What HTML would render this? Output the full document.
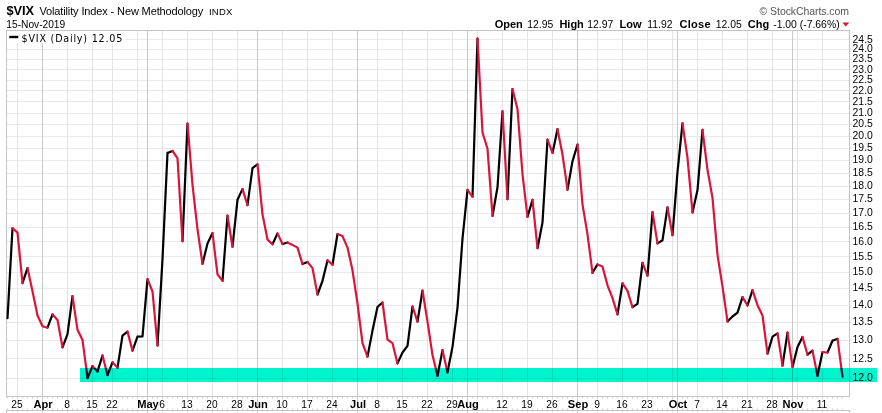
<!DOCTYPE html><html><head><meta charset="utf-8"><title>$VIX</title><style>
html,body{margin:0;padding:0;background:#fff;}
body{width:882px;height:413px;overflow:hidden;position:relative;font-family:"Liberation Sans",Arial,sans-serif;color:#000;}
.t{position:absolute;white-space:nowrap;line-height:1;}
.b{font-weight:bold;}
svg{position:absolute;left:0;top:0;}
svg text{font-family:"Liberation Sans",Arial,sans-serif;}

</style></head><body>
<svg width="882" height="413" viewBox="0 0 882 413">
<rect x="0" y="0" width="882" height="413" fill="#fff"/>
<path d="M6 378.5H852 M6 358.5H852 M6 340.5H852 M6 322.5H852 M6 305.5H852 M6 288.5H852 M6 272.5H852 M6 256.5H852 M6 241.5H852 M6 227.5H852 M6 213.5H852 M6 199.5H852 M6 186.5H852 M6 173.5H852 M6 160.5H852 M6 148.5H852 M6 136.5H852 M6 124.5H852 M6 113.5H852 M6 101.5H852 M6 90.5H852 M6 80.5H852 M6 69.5H852 M6 59.5H852 M6 49.5H852 M6 39.5H852" stroke="#e9e9e9" stroke-width="1" fill="none" shape-rendering="crispEdges"/>
<path d="M17.5 30V400 M17.5 409V413 M67.5 30V400 M67.5 409V413 M92.5 30V400 M92.5 409V413 M112.5 30V400 M112.5 409V413 M137.5 30V400 M137.5 409V413 M162.5 30V400 M162.5 409V413 M187.5 30V400 M187.5 409V413 M212.5 30V400 M212.5 409V413 M237.5 30V400 M237.5 409V413 M282.5 30V400 M282.5 409V413 M307.5 30V400 M307.5 409V413 M332.5 30V400 M332.5 409V413 M377.5 30V400 M377.5 409V413 M402.5 30V400 M402.5 409V413 M427.5 30V400 M427.5 409V413 M452.5 30V400 M452.5 409V413 M477.5 30V400 M477.5 409V413 M502.5 30V400 M502.5 409V413 M527.5 30V400 M527.5 409V413 M552.5 30V400 M552.5 409V413 M597.5 30V400 M597.5 409V413 M622.5 30V400 M622.5 409V413 M647.5 30V400 M647.5 409V413 M672.5 30V400 M672.5 409V413 M697.5 30V400 M697.5 409V413 M722.5 30V400 M722.5 409V413 M747.5 30V400 M747.5 409V413 M772.5 30V400 M772.5 409V413 M797.5 30V400 M797.5 409V413 M822.5 30V400 M822.5 409V413" stroke="#e4e4e4" stroke-width="1" fill="none" shape-rendering="crispEdges"/>
<path d="M42.5 30V413 M147.5 30V413 M257.5 30V413 M357.5 30V413 M467.5 30V413 M577.5 30V413 M677.5 30V413 M792.5 30V413" stroke="#c9c9c9" stroke-width="1" fill="none" shape-rendering="crispEdges"/>
<path d="M7.5 397v1.5 M7.5 408.5v1.5 M12.5 397v1.5 M12.5 408.5v1.5 M17.5 397v1.5 M17.5 408.5v1.5 M22.5 397v1.5 M22.5 408.5v1.5 M27.5 397v1.5 M27.5 408.5v1.5 M32.5 397v1.5 M32.5 408.5v1.5 M37.5 397v1.5 M37.5 408.5v1.5 M42.5 397v1.5 M42.5 408.5v1.5 M47.5 397v1.5 M47.5 408.5v1.5 M52.5 397v1.5 M52.5 408.5v1.5 M57.5 397v1.5 M57.5 408.5v1.5 M62.5 397v1.5 M62.5 408.5v1.5 M67.5 397v1.5 M67.5 408.5v1.5 M72.5 397v1.5 M72.5 408.5v1.5 M77.5 397v1.5 M77.5 408.5v1.5 M82.5 397v1.5 M82.5 408.5v1.5 M87.5 397v1.5 M87.5 408.5v1.5 M92.5 397v1.5 M92.5 408.5v1.5 M97.5 397v1.5 M97.5 408.5v1.5 M102.5 397v1.5 M102.5 408.5v1.5 M107.5 397v1.5 M107.5 408.5v1.5 M112.5 397v1.5 M112.5 408.5v1.5 M117.5 397v1.5 M117.5 408.5v1.5 M122.5 397v1.5 M122.5 408.5v1.5 M127.5 397v1.5 M127.5 408.5v1.5 M132.5 397v1.5 M132.5 408.5v1.5 M137.5 397v1.5 M137.5 408.5v1.5 M142.5 397v1.5 M142.5 408.5v1.5 M147.5 397v1.5 M147.5 408.5v1.5 M152.5 397v1.5 M152.5 408.5v1.5 M157.5 397v1.5 M157.5 408.5v1.5 M162.5 397v1.5 M162.5 408.5v1.5 M167.5 397v1.5 M167.5 408.5v1.5 M172.5 397v1.5 M172.5 408.5v1.5 M177.5 397v1.5 M177.5 408.5v1.5 M182.5 397v1.5 M182.5 408.5v1.5 M187.5 397v1.5 M187.5 408.5v1.5 M192.5 397v1.5 M192.5 408.5v1.5 M197.5 397v1.5 M197.5 408.5v1.5 M202.5 397v1.5 M202.5 408.5v1.5 M207.5 397v1.5 M207.5 408.5v1.5 M212.5 397v1.5 M212.5 408.5v1.5 M217.5 397v1.5 M217.5 408.5v1.5 M222.5 397v1.5 M222.5 408.5v1.5 M227.5 397v1.5 M227.5 408.5v1.5 M232.5 397v1.5 M232.5 408.5v1.5 M237.5 397v1.5 M237.5 408.5v1.5 M242.5 397v1.5 M242.5 408.5v1.5 M247.5 397v1.5 M247.5 408.5v1.5 M252.5 397v1.5 M252.5 408.5v1.5 M257.5 397v1.5 M257.5 408.5v1.5 M262.5 397v1.5 M262.5 408.5v1.5 M267.5 397v1.5 M267.5 408.5v1.5 M272.5 397v1.5 M272.5 408.5v1.5 M277.5 397v1.5 M277.5 408.5v1.5 M282.5 397v1.5 M282.5 408.5v1.5 M287.5 397v1.5 M287.5 408.5v1.5 M292.5 397v1.5 M292.5 408.5v1.5 M297.5 397v1.5 M297.5 408.5v1.5 M302.5 397v1.5 M302.5 408.5v1.5 M307.5 397v1.5 M307.5 408.5v1.5 M312.5 397v1.5 M312.5 408.5v1.5 M317.5 397v1.5 M317.5 408.5v1.5 M322.5 397v1.5 M322.5 408.5v1.5 M327.5 397v1.5 M327.5 408.5v1.5 M332.5 397v1.5 M332.5 408.5v1.5 M337.5 397v1.5 M337.5 408.5v1.5 M342.5 397v1.5 M342.5 408.5v1.5 M347.5 397v1.5 M347.5 408.5v1.5 M352.5 397v1.5 M352.5 408.5v1.5 M357.5 397v1.5 M357.5 408.5v1.5 M362.5 397v1.5 M362.5 408.5v1.5 M367.5 397v1.5 M367.5 408.5v1.5 M372.5 397v1.5 M372.5 408.5v1.5 M377.5 397v1.5 M377.5 408.5v1.5 M382.5 397v1.5 M382.5 408.5v1.5 M387.5 397v1.5 M387.5 408.5v1.5 M392.5 397v1.5 M392.5 408.5v1.5 M397.5 397v1.5 M397.5 408.5v1.5 M402.5 397v1.5 M402.5 408.5v1.5 M407.5 397v1.5 M407.5 408.5v1.5 M412.5 397v1.5 M412.5 408.5v1.5 M417.5 397v1.5 M417.5 408.5v1.5 M422.5 397v1.5 M422.5 408.5v1.5 M427.5 397v1.5 M427.5 408.5v1.5 M432.5 397v1.5 M432.5 408.5v1.5 M437.5 397v1.5 M437.5 408.5v1.5 M442.5 397v1.5 M442.5 408.5v1.5 M447.5 397v1.5 M447.5 408.5v1.5 M452.5 397v1.5 M452.5 408.5v1.5 M457.5 397v1.5 M457.5 408.5v1.5 M462.5 397v1.5 M462.5 408.5v1.5 M467.5 397v1.5 M467.5 408.5v1.5 M472.5 397v1.5 M472.5 408.5v1.5 M477.5 397v1.5 M477.5 408.5v1.5 M482.5 397v1.5 M482.5 408.5v1.5 M487.5 397v1.5 M487.5 408.5v1.5 M492.5 397v1.5 M492.5 408.5v1.5 M497.5 397v1.5 M497.5 408.5v1.5 M502.5 397v1.5 M502.5 408.5v1.5 M507.5 397v1.5 M507.5 408.5v1.5 M512.5 397v1.5 M512.5 408.5v1.5 M517.5 397v1.5 M517.5 408.5v1.5 M522.5 397v1.5 M522.5 408.5v1.5 M527.5 397v1.5 M527.5 408.5v1.5 M532.5 397v1.5 M532.5 408.5v1.5 M537.5 397v1.5 M537.5 408.5v1.5 M542.5 397v1.5 M542.5 408.5v1.5 M547.5 397v1.5 M547.5 408.5v1.5 M552.5 397v1.5 M552.5 408.5v1.5 M557.5 397v1.5 M557.5 408.5v1.5 M562.5 397v1.5 M562.5 408.5v1.5 M567.5 397v1.5 M567.5 408.5v1.5 M572.5 397v1.5 M572.5 408.5v1.5 M577.5 397v1.5 M577.5 408.5v1.5 M582.5 397v1.5 M582.5 408.5v1.5 M587.5 397v1.5 M587.5 408.5v1.5 M592.5 397v1.5 M592.5 408.5v1.5 M597.5 397v1.5 M597.5 408.5v1.5 M602.5 397v1.5 M602.5 408.5v1.5 M607.5 397v1.5 M607.5 408.5v1.5 M612.5 397v1.5 M612.5 408.5v1.5 M617.5 397v1.5 M617.5 408.5v1.5 M622.5 397v1.5 M622.5 408.5v1.5 M627.5 397v1.5 M627.5 408.5v1.5 M632.5 397v1.5 M632.5 408.5v1.5 M637.5 397v1.5 M637.5 408.5v1.5 M642.5 397v1.5 M642.5 408.5v1.5 M647.5 397v1.5 M647.5 408.5v1.5 M652.5 397v1.5 M652.5 408.5v1.5 M657.5 397v1.5 M657.5 408.5v1.5 M662.5 397v1.5 M662.5 408.5v1.5 M667.5 397v1.5 M667.5 408.5v1.5 M672.5 397v1.5 M672.5 408.5v1.5 M677.5 397v1.5 M677.5 408.5v1.5 M682.5 397v1.5 M682.5 408.5v1.5 M687.5 397v1.5 M687.5 408.5v1.5 M692.5 397v1.5 M692.5 408.5v1.5 M697.5 397v1.5 M697.5 408.5v1.5 M702.5 397v1.5 M702.5 408.5v1.5 M707.5 397v1.5 M707.5 408.5v1.5 M712.5 397v1.5 M712.5 408.5v1.5 M717.5 397v1.5 M717.5 408.5v1.5 M722.5 397v1.5 M722.5 408.5v1.5 M727.5 397v1.5 M727.5 408.5v1.5 M732.5 397v1.5 M732.5 408.5v1.5 M737.5 397v1.5 M737.5 408.5v1.5 M742.5 397v1.5 M742.5 408.5v1.5 M747.5 397v1.5 M747.5 408.5v1.5 M752.5 397v1.5 M752.5 408.5v1.5 M757.5 397v1.5 M757.5 408.5v1.5 M762.5 397v1.5 M762.5 408.5v1.5 M767.5 397v1.5 M767.5 408.5v1.5 M772.5 397v1.5 M772.5 408.5v1.5 M777.5 397v1.5 M777.5 408.5v1.5 M782.5 397v1.5 M782.5 408.5v1.5 M787.5 397v1.5 M787.5 408.5v1.5 M792.5 397v1.5 M792.5 408.5v1.5 M797.5 397v1.5 M797.5 408.5v1.5 M802.5 397v1.5 M802.5 408.5v1.5 M807.5 397v1.5 M807.5 408.5v1.5 M812.5 397v1.5 M812.5 408.5v1.5 M817.5 397v1.5 M817.5 408.5v1.5 M822.5 397v1.5 M822.5 408.5v1.5 M827.5 397v1.5 M827.5 408.5v1.5 M832.5 397v1.5 M832.5 408.5v1.5 M837.5 397v1.5 M837.5 408.5v1.5 M842.5 397v1.5 M842.5 408.5v1.5" stroke="#d2d2d2" stroke-width="1" fill="none"/>
<path d="M6.5 30.5H849.5V396.5H6.5Z M6.5 413V410.5H849.5V413" stroke="#c4c4c4" stroke-width="1" fill="none" shape-rendering="crispEdges"/>
<path d="M7.5 318.2L12.5 228.2M22.5 283.1L27.5 268.1M47.5 327.7L52.5 314.4M62.5 347.3L67.5 334.1M67.5 334.1L72.5 296.1M87.5 378.2L92.5 366.1M97.5 371.5L102.5 355.5M107.5 375.1L112.5 362.3M117.5 367.7L122.5 335.6M122.5 335.6L127.5 331.6M132.5 350.6L137.5 336.7M137.5 336.7L142.5 336.3M142.5 336.3L147.5 279.2M157.5 345.4L162.5 259.1M162.5 259.1L167.5 152.9M167.5 152.9L172.5 150.9M182.5 241.1L187.5 123.6M202.5 263.8L207.5 243.4M207.5 243.4L212.5 233.1M222.5 280.8L227.5 215.7M232.5 246.7L237.5 199.8M237.5 199.8L242.5 189.1M247.5 205.2L252.5 168.1M252.5 168.1L257.5 164.3M272.5 244.3L277.5 233.4M282.5 244.0L287.5 242.5M302.5 264.1L307.5 261.9M317.5 294.5L322.5 280.8M322.5 280.8L327.5 260.4M332.5 264.7L337.5 234.0M367.5 356.6L372.5 330.6M372.5 330.6L377.5 306.9M377.5 306.9L382.5 302.5M397.5 363.4L402.5 352.5M402.5 352.5L407.5 345.8M407.5 345.8L412.5 306.5M417.5 321.7L422.5 290.5M437.5 375.8L442.5 350.2M447.5 372.3L452.5 346.9M452.5 346.9L457.5 307.6M457.5 307.6L462.5 238.7M462.5 238.7L467.5 189.8M472.5 196.8L477.5 38.5M492.5 216.0L497.5 187.2M497.5 187.2L502.5 111.3M507.5 199.2L512.5 89.1M527.5 216.9L532.5 199.8M537.5 248.2L542.5 222.5M542.5 222.5L547.5 139.6M552.5 152.9L557.5 129.2M567.5 189.6L572.5 161.3M572.5 161.3L577.5 144.6M592.5 272.8L597.5 264.4M617.5 314.4L622.5 283.4M632.5 307.2L637.5 303.8M637.5 303.8L642.5 262.8M647.5 275.7L652.5 212.1M657.5 243.4L662.5 240.2M662.5 240.2L667.5 207.4M672.5 235.2L677.5 171.9M677.5 171.9L682.5 123.4M692.5 212.4L697.5 190.1M697.5 190.1L702.5 129.9M727.5 321.4L732.5 316.5M732.5 316.5L737.5 312.7M737.5 312.7L742.5 297.1M747.5 305.5L752.5 290.2M767.5 353.6L772.5 336.7M772.5 336.7L777.5 333.4M782.5 365.7L787.5 332.7M792.5 366.9L797.5 346.9M797.5 346.9L802.5 337.0M807.5 354.7L812.5 350.6M817.5 375.8L822.5 352.1M827.5 352.5L832.5 340.7M832.5 340.7L837.5 338.8" stroke="#000" stroke-width="2.2" fill="none" stroke-linecap="round" stroke-linejoin="round"/>
<path d="M12.5 228.2L17.5 232.6M17.5 232.6L22.5 283.1M27.5 268.1L32.5 291.2M32.5 291.2L37.5 315.5M37.5 315.5L42.5 326.3M42.5 326.3L47.5 327.7M52.5 314.4L57.5 320.0M57.5 320.0L62.5 347.3M72.5 296.1L77.5 329.8M77.5 329.8L82.5 339.9M82.5 339.9L87.5 378.2M92.5 366.1L97.5 371.5M102.5 355.5L107.5 375.1M112.5 362.3L117.5 367.7M127.5 331.6L132.5 350.6M147.5 279.2L152.5 291.5M152.5 291.5L157.5 345.4M172.5 150.9L177.5 158.3M177.5 158.3L182.5 241.1M187.5 123.6L192.5 184.8M192.5 184.8L197.5 229.4M197.5 229.4L202.5 263.8M212.5 233.1L217.5 274.4M217.5 274.4L222.5 280.8M227.5 215.7L232.5 246.7M242.5 189.1L247.5 205.2M257.5 164.3L262.5 214.3M262.5 214.3L267.5 239.6M267.5 239.6L272.5 244.3M277.5 233.4L282.5 244.0M287.5 242.5L292.5 244.9M292.5 244.9L297.5 247.6M297.5 247.6L302.5 264.1M307.5 261.9L312.5 268.1M312.5 268.1L317.5 294.5M327.5 260.4L332.5 264.7M337.5 234.0L342.5 236.1M342.5 236.1L347.5 247.6M347.5 247.6L352.5 270.3M352.5 270.3L357.5 303.5M357.5 303.5L362.5 343.2M362.5 343.2L367.5 356.6M382.5 302.5L387.5 339.6M387.5 339.6L392.5 343.2M392.5 343.2L397.5 363.4M412.5 306.5L417.5 321.7M422.5 290.5L427.5 321.7M427.5 321.7L432.5 355.1M432.5 355.1L437.5 375.8M442.5 350.2L447.5 372.3M467.5 189.8L472.5 196.8M477.5 38.5L482.5 132.5M482.5 132.5L487.5 148.7M487.5 148.7L492.5 216.0M502.5 111.3L507.5 199.2M512.5 89.1L517.5 109.3M517.5 109.3L522.5 174.2M522.5 174.2L527.5 216.9M532.5 199.8L537.5 248.2M547.5 139.6L552.5 152.9M557.5 129.2L562.5 154.5M562.5 154.5L567.5 189.6M577.5 144.6L582.5 204.4M582.5 204.4L587.5 234.3M587.5 234.3L592.5 272.8M597.5 264.4L602.5 266.6M602.5 266.6L607.5 285.3M607.5 285.3L612.5 298.1M612.5 298.1L617.5 314.4M622.5 283.4L627.5 290.9M627.5 290.9L632.5 307.2M642.5 262.8L647.5 275.7M652.5 212.1L657.5 243.4M667.5 207.4L672.5 235.2M682.5 123.4L687.5 157.8M687.5 157.8L692.5 212.4M702.5 129.9L707.5 169.8M707.5 169.8L712.5 197.9M712.5 197.9L717.5 254.8M717.5 254.8L722.5 286.6M722.5 286.6L727.5 321.4M742.5 297.1L747.5 305.5M752.5 290.2L757.5 305.2M757.5 305.2L762.5 315.5M762.5 315.5L767.5 353.6M777.5 333.4L782.5 365.7M787.5 332.7L792.5 366.9M802.5 337.0L807.5 354.7M812.5 350.6L817.5 375.8M822.5 352.1L827.5 352.5M837.5 338.8L842.5 376.6" stroke="#dc143c" stroke-width="2.2" fill="none" stroke-linecap="round" stroke-linejoin="round"/>
<rect x="80" y="368" width="797" height="14" fill="#00f4ce" style="mix-blend-mode:multiply"/>
<rect x="7" y="31" width="118" height="12" fill="#fff"/>
<rect x="9.3" y="35.8" width="9" height="2.4" fill="#000"/>
<text x="852.6" y="380.9" font-size="10.4">12.0</text>
<text x="852.6" y="361.6" font-size="10.4">12.5</text>
<text x="852.6" y="343.0" font-size="10.4">13.0</text>
<text x="852.6" y="325.1" font-size="10.4">13.5</text>
<text x="852.6" y="307.8" font-size="10.4">14.0</text>
<text x="852.6" y="291.2" font-size="10.4">14.5</text>
<text x="852.6" y="275.1" font-size="10.4">15.0</text>
<text x="852.6" y="259.6" font-size="10.4">15.5</text>
<text x="852.6" y="244.5" font-size="10.4">16.0</text>
<text x="852.6" y="230.0" font-size="10.4">16.5</text>
<text x="852.6" y="215.8" font-size="10.4">17.0</text>
<text x="852.6" y="202.1" font-size="10.4">17.5</text>
<text x="852.6" y="188.7" font-size="10.4">18.0</text>
<text x="852.6" y="175.7" font-size="10.4">18.5</text>
<text x="852.6" y="163.1" font-size="10.4">19.0</text>
<text x="852.6" y="150.8" font-size="10.4">19.5</text>
<text x="852.6" y="138.8" font-size="10.4">20.0</text>
<text x="852.6" y="127.1" font-size="10.4">20.5</text>
<text x="852.6" y="115.6" font-size="10.4">21.0</text>
<text x="852.6" y="104.5" font-size="10.4">21.5</text>
<text x="852.6" y="93.6" font-size="10.4">22.0</text>
<text x="852.6" y="82.9" font-size="10.4">22.5</text>
<text x="852.6" y="72.5" font-size="10.4">23.0</text>
<text x="852.6" y="62.3" font-size="10.4">23.5</text>
<text x="852.6" y="52.3" font-size="10.4">24.0</text>
<text x="852.6" y="42.6" font-size="10.4">24.5</text>
<text x="17.0" y="407.7" font-size="10.2" text-anchor="middle">25</text>
<text x="43.0" y="407.6" font-size="11.1" font-weight="bold" text-anchor="middle">Apr</text>
<text x="67.0" y="407.7" font-size="10.2" text-anchor="middle">8</text>
<text x="92.0" y="407.7" font-size="10.2" text-anchor="middle">15</text>
<text x="112.0" y="407.7" font-size="10.2" text-anchor="middle">22</text>
<text x="148.0" y="407.6" font-size="11.1" font-weight="bold" text-anchor="middle">May</text>
<text x="162.0" y="407.7" font-size="10.2" text-anchor="middle">6</text>
<text x="187.0" y="407.7" font-size="10.2" text-anchor="middle">13</text>
<text x="212.0" y="407.7" font-size="10.2" text-anchor="middle">20</text>
<text x="237.0" y="407.7" font-size="10.2" text-anchor="middle">28</text>
<text x="258.0" y="407.6" font-size="11.1" font-weight="bold" text-anchor="middle">Jun</text>
<text x="282.0" y="407.7" font-size="10.2" text-anchor="middle">10</text>
<text x="307.0" y="407.7" font-size="10.2" text-anchor="middle">17</text>
<text x="332.0" y="407.7" font-size="10.2" text-anchor="middle">24</text>
<text x="358.0" y="407.6" font-size="11.1" font-weight="bold" text-anchor="middle">Jul</text>
<text x="377.0" y="407.7" font-size="10.2" text-anchor="middle">8</text>
<text x="402.0" y="407.7" font-size="10.2" text-anchor="middle">15</text>
<text x="427.0" y="407.7" font-size="10.2" text-anchor="middle">22</text>
<text x="452.0" y="407.7" font-size="10.2" text-anchor="middle">29</text>
<text x="468.0" y="407.6" font-size="11.1" font-weight="bold" text-anchor="middle">Aug</text>
<text x="502.0" y="407.7" font-size="10.2" text-anchor="middle">12</text>
<text x="527.0" y="407.7" font-size="10.2" text-anchor="middle">19</text>
<text x="552.0" y="407.7" font-size="10.2" text-anchor="middle">26</text>
<text x="578.0" y="407.6" font-size="11.1" font-weight="bold" text-anchor="middle">Sep</text>
<text x="597.0" y="407.7" font-size="10.2" text-anchor="middle">9</text>
<text x="622.0" y="407.7" font-size="10.2" text-anchor="middle">16</text>
<text x="647.0" y="407.7" font-size="10.2" text-anchor="middle">23</text>
<text x="678.0" y="407.6" font-size="11.1" font-weight="bold" text-anchor="middle">Oct</text>
<text x="697.0" y="407.7" font-size="10.2" text-anchor="middle">7</text>
<text x="722.0" y="407.7" font-size="10.2" text-anchor="middle">14</text>
<text x="747.0" y="407.7" font-size="10.2" text-anchor="middle">21</text>
<text x="772.0" y="407.7" font-size="10.2" text-anchor="middle">28</text>
<text x="793.0" y="407.6" font-size="11.1" font-weight="bold" text-anchor="middle">Nov</text>
<text x="822.0" y="407.7" font-size="10.2" text-anchor="middle">11</text>
<path d="M842.3 22.6h7l-3.5 3.8z" fill="#dc143c"/>
<text x="6.5" y="15.4" font-size="12.8" font-weight="bold" letter-spacing="-0.1">$VIX</text>
<text x="39.4" y="15.3" font-size="11" letter-spacing="-0.127">Volatility Index - New Methodology</text>
<text x="208.9" y="15.2" font-size="9.5" letter-spacing="0.25">INDX</text>
<text x="6.3" y="28.0" font-size="10.2">15-Nov-2019</text>
<text x="21.6" y="41.5" font-size="9.6" letter-spacing="0.78" style="font-family:'DejaVu Sans',Verdana,sans-serif">$VIX (Daily) 12.05</text>
<text x="759.6" y="15.4" font-size="10.5" letter-spacing="-0.07" fill="#555">&#169; StockCharts.com</text>
<text x="494.7" y="27.8" font-size="11" font-weight="bold">Open</text>
<text x="527.2" y="27.8" font-size="10.4">12.95</text>
<text x="559.4" y="27.8" font-size="11" font-weight="bold">High</text>
<text x="587.3" y="27.8" font-size="10.4">12.97</text>
<text x="619.5" y="27.8" font-size="11" font-weight="bold">Low</text>
<text x="647.3" y="27.8" font-size="10.4">11.92</text>
<text x="679.5" y="27.8" font-size="11" font-weight="bold" letter-spacing="0.28">Close</text>
<text x="715.8" y="27.8" font-size="10.4">12.05</text>
<text x="747.8" y="27.8" font-size="11" font-weight="bold">Chg</text>
<text x="773.2" y="27.8" font-size="10.4">-1.00 (-7.66%)</text>
</svg>
</body></html>
